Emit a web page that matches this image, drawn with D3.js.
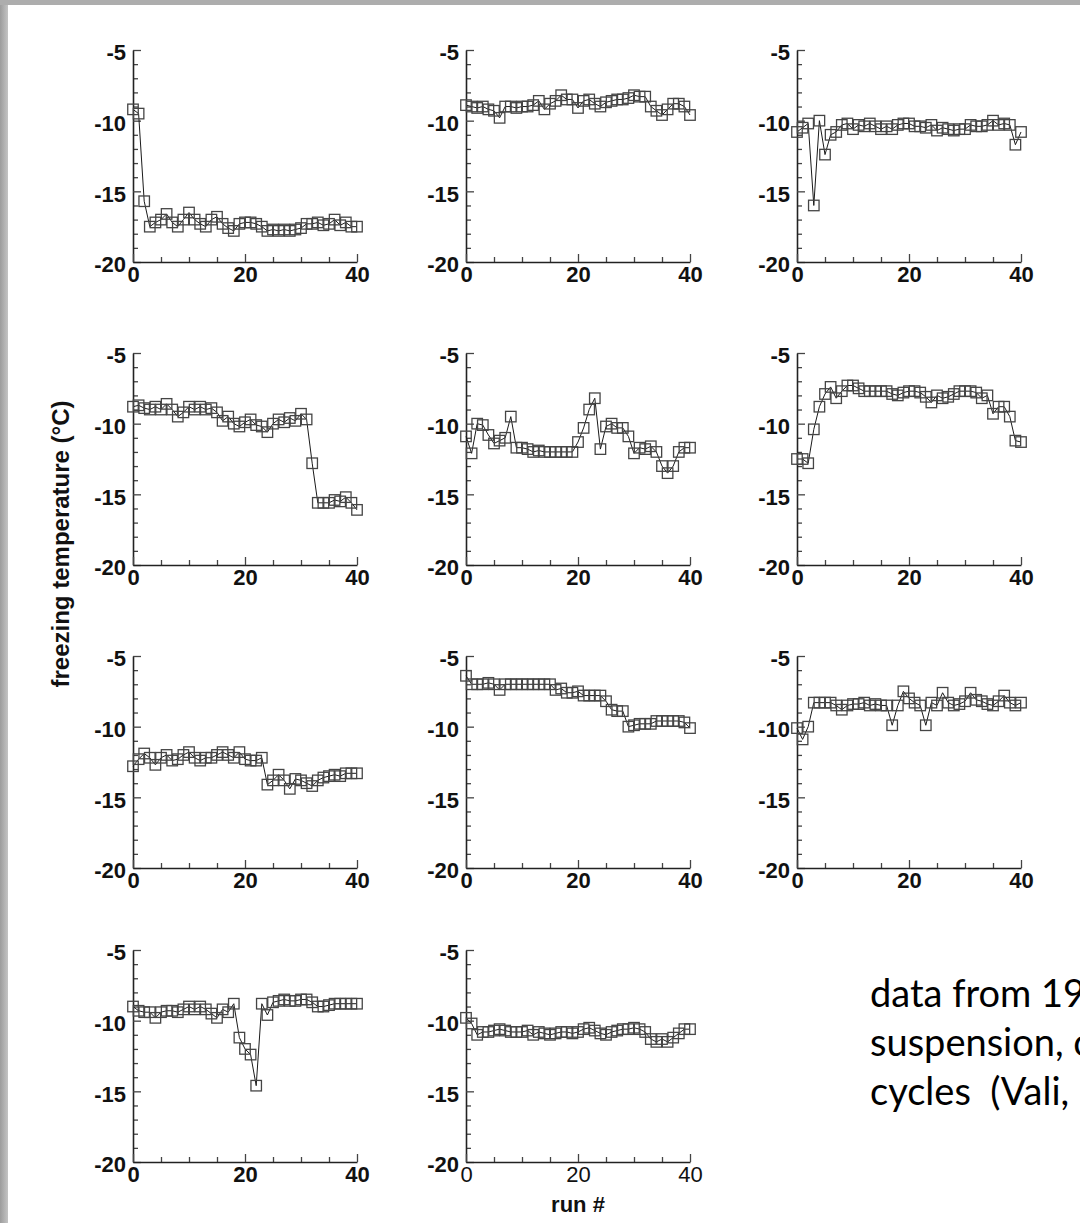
<!DOCTYPE html>
<html>
<head>
<meta charset="utf-8">
<script src="https://cdn.jsdelivr.net/npm/d3@7"></script>
<style>
  body { margin: 0; background: #fff; }
  svg { display: block; }
</style>
</head>
<body>
<div id="chart"></div>
<script>
// Freezing temperature (°C) per run, runs 0..40, one array per drop
const drop1 = [-9.2, -9.5, -15.7, -17.5, -17.2, -17.0, -16.6, -17.2, -17.5, -17.0,
  -16.5, -17.0, -17.3, -17.5, -17.0, -16.8, -17.3, -17.6, -17.8, -17.3,
  -17.2, -17.2, -17.3, -17.5, -17.8, -17.7, -17.8, -17.7, -17.8, -17.7,
  -17.6, -17.3, -17.3, -17.2, -17.4, -17.3, -17.0, -17.4, -17.2, -17.5, -17.5];
const drop2 = [-8.9, -9.0, -9.1, -9.0, -9.2, -9.3, -9.8, -9.0, -9.0, -9.1,
  -9.0, -9.0, -8.9, -8.6, -9.2, -8.8, -8.6, -8.2, -8.5, -8.5,
  -9.1, -8.6, -8.5, -8.8, -9.0, -8.7, -8.6, -8.5, -8.5, -8.4,
  -8.2, -8.3, -8.3, -9.0, -9.3, -9.6, -9.2, -8.8, -8.8, -9.0, -9.6];
const drop3 = [-10.8, -10.5, -10.2, -16.0, -10.0, -12.4, -11.0, -10.8, -10.3, -10.2,
  -10.6, -10.3, -10.4, -10.2, -10.4, -10.6, -10.4, -10.6, -10.3, -10.2,
  -10.2, -10.4, -10.4, -10.5, -10.3, -10.7, -10.5, -10.6, -10.7, -10.6,
  -10.6, -10.3, -10.4, -10.4, -10.3, -10.0, -10.3, -10.2, -10.3, -11.7, -10.8];
const drop4 = [-8.8, -8.7, -8.9, -9.0, -8.8, -9.0, -8.6, -9.0, -9.5, -9.2,
  -8.8, -9.0, -8.8, -9.0, -8.9, -9.2, -9.8, -9.5, -10.0, -10.2,
  -9.9, -9.7, -10.1, -10.2, -10.6, -10.0, -9.7, -9.9, -9.6, -9.8,
  -9.3, -9.7, -12.8, -15.6, -15.6, -15.6, -15.4, -15.5, -15.2, -15.6, -16.1];
const drop5 = [-10.9, -12.1, -10.0, -10.1, -10.8, -11.4, -11.2, -11.0, -9.5, -11.7,
  -11.7, -11.8, -12.0, -11.9, -12.0, -12.0, -12.0, -12.0, -12.0, -12.0,
  -11.3, -10.3, -9.0, -8.2, -11.8, -10.2, -10.0, -10.3, -10.3, -10.9,
  -12.1, -11.7, -11.8, -11.6, -12.0, -13.0, -13.5, -13.0, -12.0, -11.7, -11.7];
const drop6 = [-12.5, -12.5, -12.8, -10.4, -8.8, -7.9, -7.4, -8.2, -7.7, -7.3,
  -7.3, -7.5, -7.7, -7.7, -7.7, -7.7, -7.7, -7.9, -8.0, -7.8,
  -7.7, -7.7, -7.8, -8.1, -8.5, -8.0, -8.2, -8.1, -7.9, -7.7,
  -7.7, -7.7, -7.8, -8.2, -8.0, -9.3, -8.8, -8.8, -9.5, -11.2, -11.3];
const drop7 = [-12.8, -12.3, -11.9, -12.2, -12.7, -12.2, -12.0, -12.4, -12.3, -12.0,
  -11.8, -12.2, -12.4, -12.2, -12.2, -12.0, -11.8, -12.0, -12.2, -11.8,
  -12.3, -12.4, -12.4, -12.2, -14.1, -13.8, -13.4, -13.8, -14.4, -13.7,
  -13.8, -14.0, -14.2, -13.8, -13.6, -13.5, -13.4, -13.5, -13.3, -13.3, -13.3];
const drop8 = [-6.4, -7.0, -7.0, -7.0, -6.9, -7.0, -7.4, -7.0, -7.0, -7.0,
  -7.0, -7.0, -7.0, -7.0, -7.0, -7.0, -7.4, -7.3, -7.6, -7.6,
  -7.5, -7.8, -7.8, -7.8, -7.8, -8.2, -8.8, -8.9, -8.9, -10.0,
  -9.9, -9.8, -9.8, -9.8, -9.6, -9.6, -9.6, -9.6, -9.6, -9.7, -10.1];
const drop9 = [-10.1, -10.9, -10.0, -8.3, -8.3, -8.3, -8.3, -8.5, -8.8, -8.5,
  -8.4, -8.4, -8.3, -8.5, -8.4, -8.5, -8.5, -9.9, -8.5, -7.5,
  -8.0, -8.3, -8.5, -9.9, -8.3, -8.5, -7.6, -8.3, -8.5, -8.4,
  -8.2, -7.6, -8.1, -8.2, -8.4, -8.5, -8.2, -7.8, -8.3, -8.5, -8.3];
const drop10 = [-9.0, -9.3, -9.4, -9.4, -9.8, -9.4, -9.3, -9.3, -9.4, -9.2,
  -9.0, -9.2, -9.0, -9.2, -9.5, -9.8, -9.2, -9.4, -8.8, -11.2,
  -12.0, -12.4, -14.6, -8.8, -9.6, -8.7, -8.6, -8.5, -8.6, -8.6,
  -8.5, -8.5, -8.7, -9.0, -9.0, -8.9, -8.8, -8.8, -8.8, -8.8, -8.8];
const drop11 = [-9.8, -10.2, -11.0, -10.8, -10.8, -10.7, -10.6, -10.7, -10.8, -10.8,
  -10.8, -10.7, -11.0, -10.8, -10.9, -11.0, -10.9, -10.8, -10.8, -10.9,
  -10.8, -10.6, -10.5, -10.7, -10.9, -11.0, -10.8, -10.7, -10.6, -10.6,
  -10.5, -10.6, -10.8, -11.3, -11.5, -11.3, -11.5, -11.2, -10.9, -10.6, -10.6];

const DROPS = [drop1, drop2, drop3, drop4, drop5, drop6, drop7, drop8, drop9, drop10, drop11];

const Y_TICKS = [-5, -10, -15, -20];
const X_TICKS = [0, 20, 40];
const Y_LABEL = 'freezing temperature (°C)';
const X_LABEL = 'run #';
const NOTE_LINES = [
  'data from 19 drops of a soil',
  'suspension, over 40 freezing',
  'cycles  (Vali, 2008)'
];

const DIMENSIONS = {
  width: 1080,
  height: 1223,
  cols: [133, 466, 797],
  rows: [50, 353, 656, 950],
  plot: { width: 224, height: 212 },
  tick: { major: 8, minor: 5 },
  marker: 10.5
};

const COLORS = {
  axis:   '#222',
  tick:   '#444',
  line:   '#1a1a1a',
  marker: '#454545',
  text:   '#111',
  frame:  '#adadad'
};

const FONT = '"Liberation Sans", Arial, Helvetica, sans-serif';

let svg = d3.select('#chart').append('svg')
  .attr('width', DIMENSIONS.width)
  .attr('height', DIMENSIONS.height)
  .style('background-color', '#fff');

// Slide frame strips (left and top)
let defs = svg.append('defs');
let grad = defs.append('linearGradient')
  .attr('id', 'frameLeft')
  .attr('x1', 0).attr('y1', 0).attr('x2', 1).attr('y2', 0);
grad.append('stop').attr('offset', 0).attr('stop-color', '#9c9c9c');
grad.append('stop').attr('offset', 1).attr('stop-color', '#c4c4c4');

svg.append('rect')
  .attr('x', 0).attr('y', 0)
  .attr('width', 8).attr('height', DIMENSIONS.height)
  .style('fill', 'url(#frameLeft)');
svg.append('rect')
  .attr('x', 0).attr('y', 0)
  .attr('width', DIMENSIONS.width).attr('height', 5)
  .style('fill', COLORS.frame);

let xScale = d3.scaleLinear().domain([0, 40]).range([0, DIMENSIONS.plot.width]);
let yScale = d3.scaleLinear().domain([-20, -5]).range([DIMENSIONS.plot.height, 0]);

// plain hyphen, not the unicode minus d3.format gives
let fmt = d => String(d);

function styleAxis(g, regular) {
  g.select('.domain')
    .style('stroke', COLORS.axis)
    .style('stroke-width', 1.6);
  g.selectAll('.tick line')
    .style('stroke', COLORS.tick)
    .style('stroke-width', 1.3);
  g.selectAll('text')
    .style('fill', COLORS.text)
    .style('font-family', FONT)
    .style('font-weight', regular ? 'normal' : 'bold')
    .style('font-size', '22px');
}

function minorTicks(a) {
  a.select('.domain').remove();
  a.selectAll('.tick line')
    .style('stroke', COLORS.tick)
    .style('stroke-width', 1.3);
}

DROPS.forEach((values, i) => {
  let col = i % 3;
  let row = Math.floor(i / 3);
  let g = svg.append('g')
    .attr('class', 'panel')
    .attr('transform', `translate(${DIMENSIONS.cols[col]},${DIMENSIONS.rows[row]})`);

  // Minor ticks, pointing inward
  g.append('g')
    .call(d3.axisLeft(yScale)
      .tickValues(d3.range(-19, -5, 1).filter(v => v % 5 !== 0))
      .tickSizeInner(-DIMENSIONS.tick.minor).tickSizeOuter(0)
      .tickFormat(''))
    .call(minorTicks);

  g.append('g')
    .attr('transform', `translate(0,${DIMENSIONS.plot.height})`)
    .call(d3.axisBottom(xScale)
      .tickValues([5, 10, 15, 25, 30, 35])
      .tickSizeInner(-DIMENSIONS.tick.minor).tickSizeOuter(0)
      .tickFormat(''))
    .call(minorTicks);

  // Major axes
  let yAxis = g.append('g')
    .call(d3.axisLeft(yScale)
      .tickValues(Y_TICKS)
      .tickSizeInner(-DIMENSIONS.tick.major).tickSizeOuter(0)
      .tickPadding(7)
      .tickFormat(fmt))
    .call(a => styleAxis(a, false));
  yAxis.selectAll('text').attr('dy', '0.45em');

  g.append('g')
    .attr('transform', `translate(0,${DIMENSIONS.plot.height})`)
    .call(d3.axisBottom(xScale)
      .tickValues(X_TICKS)
      .tickSizeInner(-DIMENSIONS.tick.major).tickSizeOuter(0)
      .tickPadding(4)
      .tickFormat(fmt))
    .call(a => styleAxis(a, i === 10));

  // Series line
  let line = d3.line()
    .x((d, k) => xScale(k))
    .y(d => yScale(d));

  g.append('path')
    .datum(values)
    .attr('d', line)
    .style('fill', 'none')
    .style('stroke', COLORS.line)
    .style('stroke-width', 1);

  // Open square markers
  let s = DIMENSIONS.marker;
  g.selectAll('.marker')
      .data(values)
    .enter().append('rect')
      .attr('class', 'marker')
      .attr('x', (d, k) => xScale(k) - s / 2)
      .attr('y', d => yScale(d) - s / 2)
      .attr('width', s)
      .attr('height', s)
      .style('fill', 'none')
      .style('stroke', COLORS.marker)
      .style('stroke-width', 1.3);
});

// Axis titles
svg.append('text')
  .text(Y_LABEL)
  .attr('transform', 'translate(69,544) rotate(-90)')
  .attr('text-anchor', 'middle')
  .style('font-family', FONT)
  .style('font-weight', 'bold')
  .style('font-size', '24px')
  .style('fill', COLORS.text);

svg.append('text')
  .text(X_LABEL)
  .attr('x', DIMENSIONS.cols[1] + DIMENSIONS.plot.width / 2)
  .attr('y', 1212)
  .attr('text-anchor', 'middle')
  .style('font-family', FONT)
  .style('font-weight', 'bold')
  .style('font-size', '22px')
  .style('fill', COLORS.text);

// Slide note (runs off the right edge as in the source)
svg.append('g')
  .selectAll('text')
    .data(NOTE_LINES)
  .enter().append('text')
    .text(d => d)
    .attr('x', 870)
    .attr('y', (d, k) => 1007 + k * 49)
    .style('font-family', 'Lato, "Open Sans", sans-serif')
    .style('font-size', '38px')
    .style('fill', '#000')
    .style('white-space', 'pre');
</script>
</body>
</html>
